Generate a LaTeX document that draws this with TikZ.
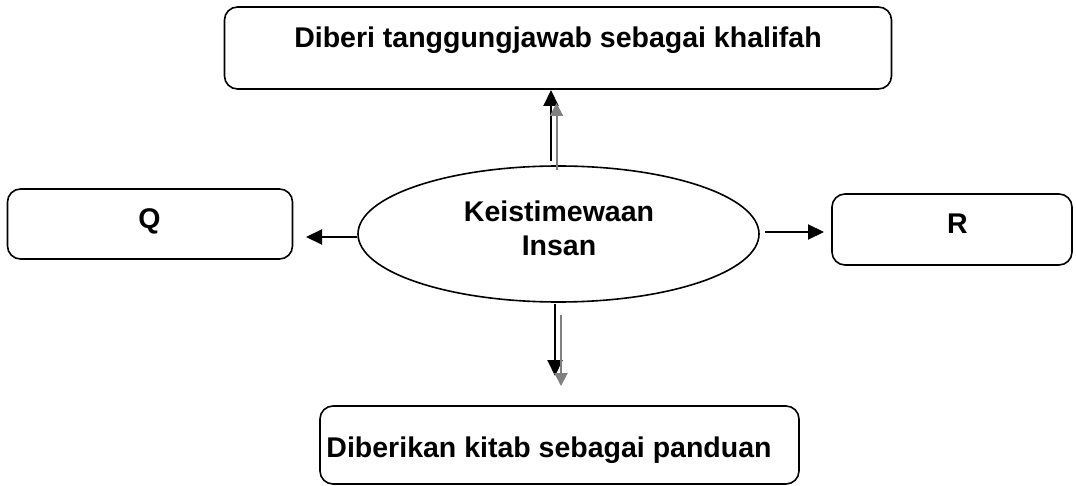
\documentclass[tikz,border=0pt]{standalone}
\usepackage{fontspec}
\setmainfont{Liberation Sans}
\usetikzlibrary{shapes.geometric,arrows.meta}
\begin{document}
\begin{tikzpicture}[x=1pt,y=-1pt,
  box/.style={draw,line width=1.6pt,rounded corners=13pt,inner sep=0pt},
  lbl/.style={font=\bfseries\fontsize{28.5}{34}\selectfont,inner sep=0pt,align=center,anchor=base},
  blk/.style={line width=2pt,-{Triangle[length=16pt,width=15pt]}},
  gry/.style={line width=2pt,draw=gray,-{Triangle[length=13pt,width=13pt,fill=gray]}}]
\useasboundingbox (0,0) rectangle (1076,486);
% boxes
\node[box,minimum width=667pt,minimum height=82pt] (top) at (558,48) {};
\node[box,minimum width=285pt,minimum height=70pt] (q) at (150,224) {};
\node[box,minimum width=240pt,minimum height=71pt] (r) at (952,229.5) {};
\node[box,minimum width=479pt,minimum height=78pt] (bot) at (559.5,445) {};
\node[draw,ellipse,line width=1.6pt,minimum width=401pt,minimum height=136pt,inner sep=0pt] (ell) at (558.5,234) {};
% labels
\node[lbl] (toptxt) at (558,48) {Diberi tanggungjawab sebagai khalifah};
\node[lbl] (qtxt) at (149.5,229) {Q};
\node[lbl] (rtxt) at (957.5,234) {R};
\node[lbl] (bottxt) at (549,457) {Diberikan kitab sebagai panduan};
\node[lbl] (elltxt) at (559,256) {Keistimewaan\\Insan};
% arrow endpoints
\coordinate (upb0) at (551,161);
\coordinate (upb1) at (551,90);
\coordinate (upg0) at (556.5,170);
\coordinate (upg1) at (556.5,103);
\coordinate (dnb0) at (555,304);
\coordinate (dnb1) at (555,376);
\coordinate (dng0) at (561,315);
\coordinate (dng1) at (561,386);
\coordinate (lf0) at (357,237);
\coordinate (lf1) at (306,237);
\coordinate (rt0) at (765,232);
\coordinate (rt1) at (824,232);
% arrows
\draw[blk] (upb0) -- (upb1);
\draw[gry] (upg0) -- (upg1);
\draw[blk] (dnb0) -- (dnb1);
\draw[gry] (dng0) -- (dng1);
\draw[blk] (lf0) -- (lf1);
\draw[blk] (rt0) -- (rt1);
\end{tikzpicture}
\end{document}
